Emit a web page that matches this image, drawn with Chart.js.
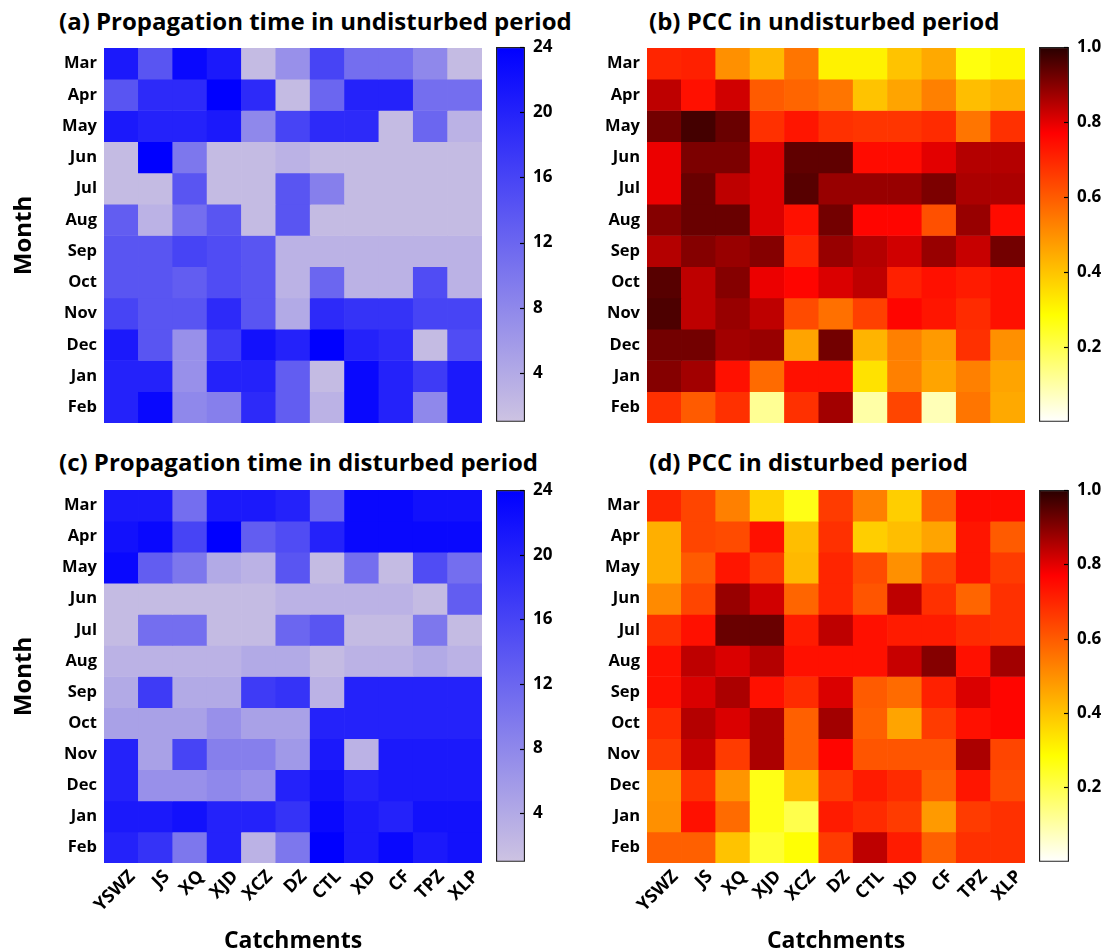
<!DOCTYPE html>
<html>
<head>
<meta charset="utf-8">
<script src="https://cdn.jsdelivr.net/npm/chart.js@4.4.1/dist/chart.umd.min.js"></script>
<style>
  body { margin: 0; background: #fff; width: 1108px; height: 951px; position: relative; overflow: hidden; font-family: "Open Sans", sans-serif; }
  .panel { position: absolute; }
  .title { position: absolute; font-weight: bold; font-size: 24px; line-height: 24px; white-space: nowrap; color: #000; }
</style>
</head>
<body>
<div class="title" style="left:59px;top:9px">(a) Propagation time in undisturbed period</div>
<div class="title" style="left:649px;top:9px">(b) PCC in undisturbed period</div>
<div class="title" style="left:59px;top:450px">(c) Propagation time in disturbed period</div>
<div class="title" style="left:649px;top:450px">(d) PCC in disturbed period</div>

<canvas class="panel" id="hmA" width="490" height="440" style="left:0;top:0"></canvas>
<canvas class="panel" id="hmB" width="490" height="440" style="left:540px;top:0"></canvas>
<canvas class="panel" id="hmC" width="490" height="515" style="left:0;top:440px"></canvas>
<canvas class="panel" id="hmD" width="490" height="515" style="left:540px;top:440px"></canvas>
<canvas class="panel" id="cbA" width="110" height="440" style="left:460px;top:0"></canvas>
<canvas class="panel" id="cbB" width="108" height="440" style="left:1000px;top:0"></canvas>
<canvas class="panel" id="cbC" width="110" height="440" style="left:460px;top:440px"></canvas>
<canvas class="panel" id="cbD" width="108" height="440" style="left:1000px;top:440px"></canvas>

<script>
/* ====================
   DATA
==================== */
const months = ["Mar", "Apr", "May", "Jun", "Jul", "Aug", "Sep", "Oct", "Nov", "Dec", "Jan", "Feb"];
const catchments = ["YSWZ", "JS", "XQ", "XJD", "XCZ", "DZ", "CTL", "XD", "CF", "TPZ", "XLP"];

// (a) propagation time, undisturbed period (rows = months, cols = catchments)
const ptUndisturbed = [
  [21, 14, 23, 21, 2, 7, 16, 11, 11, 8, 2],
  [14, 19, 19, 24, 19, 2, 12, 20, 20, 11, 11],
  [21, 20, 20, 21, 8, 16, 19, 19, 2, 12, 3],
  [2, 24, 10, 2, 2, 3, 2, 2, 2, 2, 2],
  [2, 2, 14, 2, 2, 14, 9, 2, 2, 2, 2],
  [13, 3, 11, 14, 2, 14, 2, 2, 2, 2, 2],
  [14, 14, 16, 15, 14, 3, 3, 3, 3, 3, 3],
  [14, 14, 13, 15, 14, 3, 12, 3, 3, 15, 3],
  [16, 14, 14, 19, 14, 4, 19, 18, 18, 16, 16],
  [21, 14, 7, 17, 22, 20, 24, 20, 19, 2, 15],
  [20, 20, 7, 20, 20, 13, 2, 23, 20, 17, 21],
  [20, 23, 8, 9, 19, 13, 3, 23, 20, 8, 21]
];

// (b) PCC, undisturbed period
const pccUndisturbed = [
  [0.70, 0.71, 0.50, 0.42, 0.55, 0.31, 0.31, 0.40, 0.45, 0.27, 0.30],
  [0.84, 0.74, 0.82, 0.60, 0.58, 0.55, 0.40, 0.46, 0.53, 0.41, 0.44],
  [0.92, 0.97, 0.93, 0.68, 0.73, 0.68, 0.67, 0.67, 0.69, 0.55, 0.68],
  [0.79, 0.91, 0.91, 0.81, 0.94, 0.94, 0.75, 0.75, 0.80, 0.85, 0.85],
  [0.79, 0.93, 0.84, 0.81, 0.95, 0.88, 0.88, 0.88, 0.91, 0.86, 0.86],
  [0.90, 0.93, 0.93, 0.81, 0.74, 0.92, 0.76, 0.76, 0.62, 0.88, 0.75],
  [0.85, 0.90, 0.88, 0.90, 0.70, 0.88, 0.85, 0.82, 0.88, 0.83, 0.92],
  [0.95, 0.84, 0.90, 0.79, 0.76, 0.81, 0.84, 0.71, 0.74, 0.72, 0.74],
  [0.96, 0.84, 0.88, 0.84, 0.63, 0.56, 0.65, 0.76, 0.73, 0.69, 0.74],
  [0.92, 0.92, 0.87, 0.88, 0.46, 0.92, 0.43, 0.53, 0.48, 0.68, 0.50],
  [0.90, 0.87, 0.74, 0.57, 0.74, 0.74, 0.34, 0.53, 0.46, 0.53, 0.46],
  [0.68, 0.60, 0.68, 0.12, 0.68, 0.87, 0.10, 0.64, 0.08, 0.55, 0.45]
];

// (c) propagation time, disturbed period
const ptDisturbed = [
  [21, 21, 11, 21, 21, 20, 12, 23, 23, 22, 22],
  [22, 23, 16, 24, 13, 15, 20, 23, 23, 23, 23],
  [23, 13, 10, 4, 3, 14, 2, 11, 2, 15, 11],
  [2, 2, 2, 2, 2, 3, 3, 3, 3, 2, 13],
  [2, 11, 11, 2, 2, 12, 14, 2, 2, 10, 2],
  [3, 3, 3, 3, 4, 4, 2, 3, 3, 4, 3],
  [4, 17, 4, 4, 17, 18, 3, 20, 20, 20, 20],
  [5, 5, 5, 7, 5, 5, 20, 20, 20, 20, 20],
  [20, 5, 16, 9, 9, 6, 21, 3, 21, 21, 21],
  [20, 7, 7, 8, 7, 20, 22, 20, 21, 21, 21],
  [21, 21, 22, 20, 20, 18, 23, 21, 20, 22, 22],
  [20, 18, 10, 20, 3, 10, 24, 21, 23, 21, 22]
];

// (d) PCC, disturbed period
const pccDisturbed = [
  [0.70, 0.64, 0.53, 0.37, 0.26, 0.66, 0.53, 0.38, 0.59, 0.75, 0.75],
  [0.44, 0.64, 0.63, 0.74, 0.41, 0.68, 0.38, 0.41, 0.46, 0.73, 0.60],
  [0.44, 0.60, 0.73, 0.66, 0.42, 0.70, 0.63, 0.50, 0.64, 0.73, 0.66],
  [0.51, 0.64, 0.88, 0.82, 0.58, 0.70, 0.61, 0.84, 0.68, 0.58, 0.68],
  [0.68, 0.74, 0.93, 0.93, 0.72, 0.84, 0.74, 0.72, 0.72, 0.69, 0.68],
  [0.74, 0.84, 0.81, 0.85, 0.74, 0.74, 0.74, 0.83, 0.90, 0.74, 0.87],
  [0.74, 0.81, 0.86, 0.74, 0.69, 0.81, 0.60, 0.57, 0.71, 0.81, 0.76],
  [0.69, 0.85, 0.81, 0.86, 0.59, 0.87, 0.59, 0.46, 0.66, 0.74, 0.76],
  [0.66, 0.83, 0.66, 0.86, 0.59, 0.76, 0.61, 0.61, 0.61, 0.86, 0.64],
  [0.49, 0.68, 0.49, 0.26, 0.42, 0.66, 0.72, 0.69, 0.59, 0.73, 0.63],
  [0.50, 0.74, 0.57, 0.26, 0.20, 0.72, 0.69, 0.66, 0.48, 0.66, 0.68],
  [0.59, 0.59, 0.40, 0.23, 0.28, 0.66, 0.84, 0.72, 0.59, 0.68, 0.68]
];

// colour bar ranges and tick labels
const ptRange = [1, 24];
const ptTicks = [4, 8, 12, 16, 20, 24];
const pccRange = [0, 1];
const pccTicks = [0.2, 0.4, 0.6, 0.8, 1.0];

/* ====================
   COLOUR MAPS
==================== */
const blueStops = [[0, [205, 195, 226]], [1, [0, 0, 255]]];
const hotStops = [
  [0, [255, 255, 255]],
  [0.285, [255, 255, 0]],
  [0.53, [255, 128, 0]],
  [0.77, [255, 0, 0]],
  [1, [40, 0, 0]]
];

function sampleStops(stops, t) {
  t = Math.max(0, Math.min(1, t));
  for (let i = 1; i < stops.length; i++) {
    const [p1, c1] = stops[i];
    const [p0, c0] = stops[i - 1];
    if (t <= p1) {
      const f = (t - p0) / (p1 - p0);
      const c = c0.map((v, k) => Math.round(v + (c1[k] - v) * f));
      return `rgb(${c[0]},${c[1]},${c[2]})`;
    }
  }
  const c = stops[stops.length - 1][1];
  return `rgb(${c[0]},${c[1]},${c[2]})`;
}

const ptColor = v => sampleStops(blueStops, (v - ptRange[0]) / (ptRange[1] - ptRange[0]));
const pccColor = v => sampleStops(hotStops, (v - pccRange[0]) / (pccRange[1] - pccRange[0]));

/* ====================
   CHART HELPERS
==================== */
Chart.defaults.font.family = '"Open Sans", sans-serif';
Chart.defaults.color = "#000";

const boldFont = size => ({ size, weight: "bold", lineHeight: 1.2 });

function heatmapConfig(values, colorOf, opts) {
  const datasets = months.map((m, r) => ({
    label: m,
    data: catchments.map(() => [r - 0.5, r + 0.5]),
    backgroundColor: values[r].map(colorOf),
    borderWidth: 0,
    grouped: false,
    barPercentage: 1,
    categoryPercentage: 1
  }));

  return {
    type: "bar",
    data: { labels: catchments, datasets },
    options: {
      responsive: false,
      animation: false,
      events: [],
      layout: { padding: opts.padding },
      plugins: { legend: { display: false }, tooltip: { enabled: false } },
      scales: {
        x: {
          display: opts.showX,
          grid: { display: false, drawTicks: false },
          border: { display: false },
          ticks: {
            font: boldFont(18),
            minRotation: 45,
            maxRotation: 45,
            autoSkip: false,
            padding: 3,
            labelOffset: 11
          },
          title: { display: opts.showX, text: "Catchments", font: boldFont(23), padding: 0 },
          afterFit: s => { if (opts.xHeight) s.height = opts.xHeight; }
        },
        y: {
          min: -0.5,
          max: 11.5,
          reverse: true,
          grid: { display: false, drawTicks: false },
          border: { display: false },
          afterBuildTicks: s => { s.ticks = months.map((_, i) => ({ value: i })); },
          ticks: { callback: v => months[v], font: boldFont(16.5), padding: 7, autoSkip: false },
          title: { display: opts.showMonth, text: "Month", font: boldFont(24), padding: { top: 10, bottom: 0 } },
          afterFit: s => { s.width = opts.yWidth; }
        }
      }
    }
  };
}

// short tick marks drawn inside the right edge of a colour bar
const innerTicks = {
  id: "innerTicks",
  afterDatasetsDraw(chart) {
    const { ctx, chartArea } = chart;
    const s = chart.scales.y;
    ctx.save();
    ctx.strokeStyle = "#000";
    ctx.lineWidth = 1.2;
    s.ticks.forEach(t => {
      const y = Math.round(s.getPixelForValue(t.value)) + 0.5;
      ctx.beginPath();
      ctx.moveTo(chartArea.right - 1, y);
      ctx.lineTo(chartArea.right - 5, y);
      ctx.stroke();
    });
    ctx.restore();
  }
};

function colorbarConfig(range, tickValues, stops, fmt, opts) {
  return {
    type: "bar",
    data: {
      labels: [""],
      datasets: [{
        data: [range],
        backgroundColor: ctx => {
          const area = ctx.chart.chartArea;
          if (!area) return "#fff";
          const g = ctx.chart.ctx.createLinearGradient(0, area.bottom, 0, area.top);
          stops.forEach(([p, c]) => g.addColorStop(p, `rgb(${c[0]},${c[1]},${c[2]})`));
          return g;
        },
        borderColor: "#222",
        borderWidth: 1.5,
        borderSkipped: false,
        barPercentage: 1,
        categoryPercentage: 1
      }]
    },
    options: {
      responsive: false,
      animation: false,
      events: [],
      layout: { padding: opts.padding },
      plugins: { legend: { display: false }, tooltip: { enabled: false } },
      scales: {
        x: { display: false },
        y: {
          position: "right",
          min: range[0],
          max: range[1],
          grid: { display: false, drawTicks: false },
          border: { display: false },
          afterBuildTicks: s => { s.ticks = tickValues.map(v => ({ value: v })); },
          ticks: { callback: fmt, font: boldFont(17), padding: 8 },
          afterFit: s => { s.width = opts.yWidth; }
        }
      }
    },
    plugins: [innerTicks]
  };
}

/* ====================
   HEATMAPS
==================== */
new Chart(document.getElementById("hmA"), heatmapConfig(ptUndisturbed, ptColor, {
  padding: { top: 48, right: 8, bottom: 17, left: 0 }, yWidth: 104, showX: false, showMonth: true
}));
new Chart(document.getElementById("hmB"), heatmapConfig(pccUndisturbed, pccColor, {
  padding: { top: 48, right: 5, bottom: 17, left: 0 }, yWidth: 107, showX: false, showMonth: false
}));
new Chart(document.getElementById("hmC"), heatmapConfig(ptDisturbed, ptColor, {
  padding: { top: 50, right: 8, bottom: 0, left: 0 }, yWidth: 104, xHeight: 92, showX: true, showMonth: true
}));
new Chart(document.getElementById("hmD"), heatmapConfig(pccDisturbed, pccColor, {
  padding: { top: 50, right: 5, bottom: 0, left: 0 }, yWidth: 107, xHeight: 92, showX: true, showMonth: false
}));

/* ====================
   COLOUR BARS
==================== */
const fmtPt = v => String(v);
const fmtPcc = v => v.toFixed(1);

new Chart(document.getElementById("cbA"), colorbarConfig(ptRange, ptTicks, blueStops, fmtPt, {
  padding: { top: 47, right: 0, bottom: 17, left: 36 }, yWidth: 45
}));
new Chart(document.getElementById("cbB"), colorbarConfig(pccRange, pccTicks, hotStops, fmtPcc, {
  padding: { top: 47, right: 0, bottom: 17, left: 39 }, yWidth: 39
}));
new Chart(document.getElementById("cbC"), colorbarConfig(ptRange, ptTicks, blueStops, fmtPt, {
  padding: { top: 50, right: 0, bottom: 16, left: 36 }, yWidth: 45
}));
new Chart(document.getElementById("cbD"), colorbarConfig(pccRange, pccTicks, hotStops, fmtPcc, {
  padding: { top: 50, right: 0, bottom: 16, left: 39 }, yWidth: 39
}));
</script>
</body>
</html>
